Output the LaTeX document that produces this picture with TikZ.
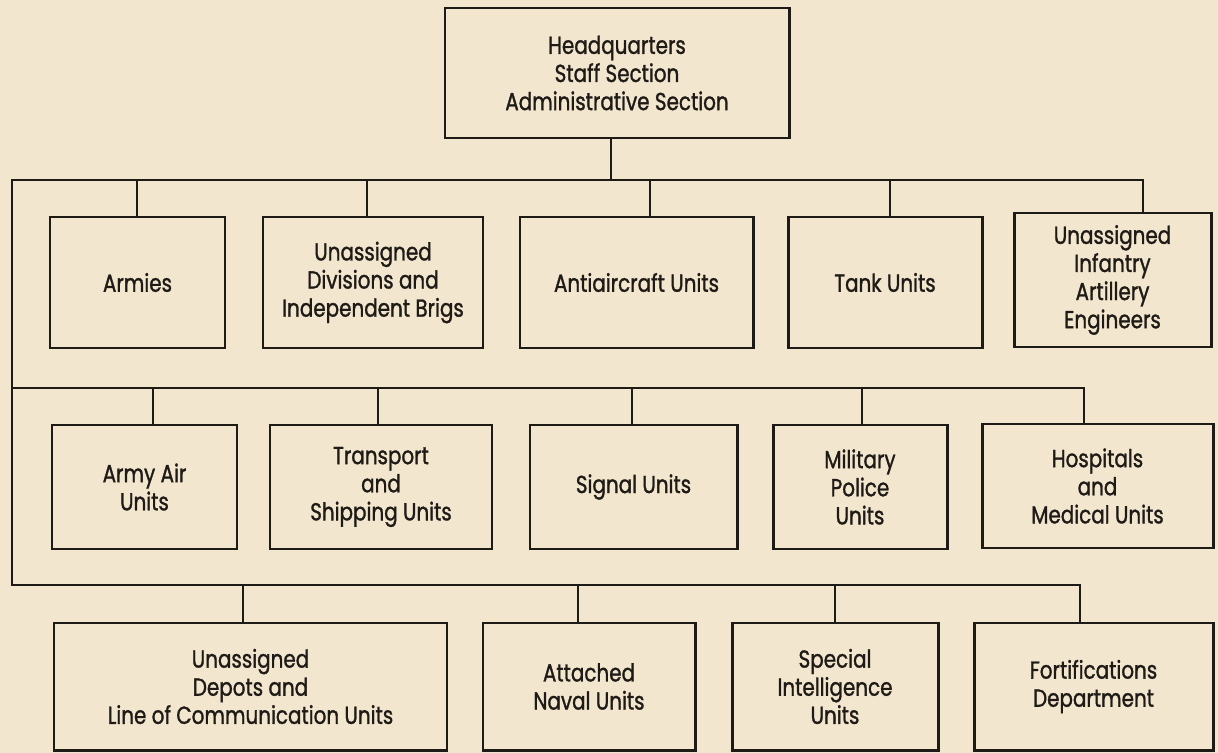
\documentclass[tikz,border=0pt]{standalone}
\usepackage{fontspec}
\setmainfont{Poppins}[FakeStretch=0.81, FakeBold=1.2]
\usetikzlibrary{calc}
\definecolor{paper}{RGB}{243,230,206}
\definecolor{ink}{RGB}{30,26,22}
\tikzset{
  unitbox/.style={draw=ink, line width=1.7pt, minimum width=#1*0.2mm, align=center,
    text=ink, inner sep=2pt, font=\fontsize{14}{16}\selectfont},
  rowa/.style={minimum height=131*0.2mm},
  rowb/.style={minimum height=124*0.2mm},
  rowc/.style={minimum height=127*0.2mm},
  link/.style={draw=ink, line width=1.6pt},
}

\begin{document}
\begin{tikzpicture}[x=0.2mm, y=-0.2mm]
\fill[paper] (0,0) rectangle (1218,753);
\useasboundingbox (0,0) rectangle (1218,753);

% headquarters
\node[unitbox=344, minimum height=130*0.2mm] (hq) at (617,73) {Headquarters\\Staff Section\\Administrative Section};

% first row
\node[unitbox=175, rowa] (armies) at (137.5,282.5) {Armies};
\node[unitbox=220, rowa] (divisions) at (373,282.5) {Unassigned\\Divisions and\\Independent Brigs};
\node[unitbox=233, rowa] (antiair) at (636.5,282.5) {Antiaircraft Units};
\node[unitbox=194, rowa] (tank) at (885,282.5) {Tank Units};
\node[unitbox=197, minimum height=134*0.2mm] (infantry) at (1112.5,280) {Unassigned\\Infantry\\Artillery\\Engineers};

% second row
\node[unitbox=185, rowb] (armyair) at (144.5,487) {Army Air\\Units};
\node[unitbox=222, rowb] (transport) at (381,487) {Transport\\and\\Shipping Units};
\node[unitbox=207, rowb] (signal) at (633.5,487) {Signal Units};
\node[unitbox=174, rowb] (police) at (860,487) {Military\\Police\\Units};
\node[unitbox=231, rowb] (hospitals) at (1097.5,486) {Hospitals\\and\\Medical Units};

% third row
\node[unitbox=393, rowc] (depots) at (250.5,686.5) {Unassigned\\Depots and\\Line of Communication Units};
\node[unitbox=212, rowc] (naval) at (589,686.5) {Attached\\Naval Units};
\node[unitbox=206, rowc] (intel) at (835,686.5) {Special\\Intelligence\\Units};
\node[unitbox=239, rowc] (forts) at (1093.5,686.5) {Fortifications\\Department};

% buses
\coordinate (hqa) at (611,180);
\coordinate (la) at (12,180);
\coordinate (lb) at (12,388);
\coordinate (lc) at (12,585);
\coordinate (ea) at (1143,180);
\coordinate (eb) at (1084,388);
\coordinate (ec) at (1080,585);

\draw[link] (hq.south -| hqa) -- (hqa);
\draw[link] (infantry.north -| ea) -- (ea) -- (la) -- (lc) -- (ec) -- (forts.north -| ec);
\draw[link] (lb) -- (eb) -- (hospitals.north -| eb);

\foreach \x/\n in {137/armies, 367/divisions, 650/antiair, 890/tank}
  \draw[link] (\x,180) coordinate (d\n) -- (d\n |- \n.north);
\foreach \x/\n in {153/armyair, 378/transport, 632/signal, 862/police}
  \draw[link] (\x,388) coordinate (d\n) -- (d\n |- \n.north);
\foreach \x/\n in {243/depots, 578/naval, 835/intel}
  \draw[link] (\x,585) coordinate (d\n) -- (d\n |- \n.north);
\end{tikzpicture}
\end{document}
